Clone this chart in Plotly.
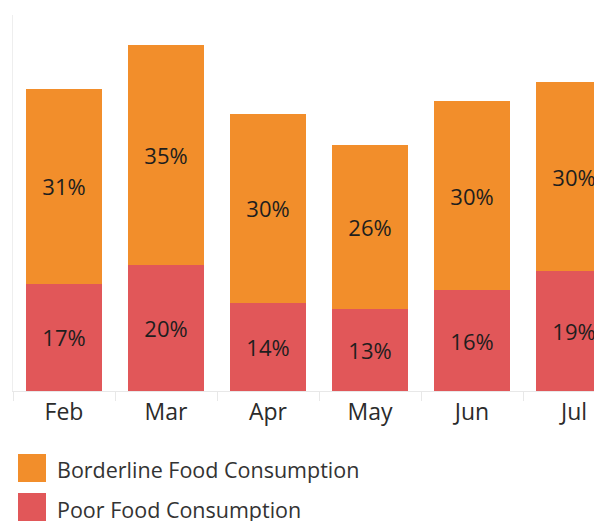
import plotly.graph_objects as go

months = ["Feb", "Mar", "Apr", "May", "Jun", "Jul"]
poor = [17, 20, 14, 13, 16, 19]
borderline = [31, 35, 30, 26, 30, 30]
series_names = ["Borderline Food Consumption", "Poor Food Consumption"]
colors = {"Borderline Food Consumption": "#F28E2B", "Poor Food Consumption": "#E15759"}

FONT = "Open Sans"
W, H = 594, 521
ML, MR, MT, MB = 13, 0, 15, 130

fig = go.Figure()
fig.add_trace(go.Bar(
    x=months, y=poor, name=series_names[1],
    marker=dict(color=colors[series_names[1]], line=dict(width=0)),
    text=[f"{v}%" for v in poor], textposition="inside",
    insidetextanchor="middle", constraintext="none",
    textfont=dict(family=FONT, size=22, color="#1e1e1e"),
    showlegend=False, hoverinfo="skip",
))
fig.add_trace(go.Bar(
    x=months, y=borderline, name=series_names[0],
    marker=dict(color=colors[series_names[0]], line=dict(width=0)),
    text=[f"{v}%" for v in borderline], textposition="inside",
    insidetextanchor="middle", constraintext="none",
    textfont=dict(family=FONT, size=22, color="#1e1e1e"),
    showlegend=False, hoverinfo="skip",
))

# manual legend (large square swatches); positions given in window pixels
plot_h = H - MT - MB
plot_w = W - ML - MR
base_win = H - MB
legend_rows = [(series_names[0], 454, 482, 469), (series_names[1], 493, 521, 509)]
for name, top, bot, cy in legend_rows:
    fig.add_shape(type="rect", xref="paper", yref="paper",
                  xsizemode="pixel", ysizemode="pixel", xanchor=0, yanchor=0,
                  x0=18 - ML, x1=46 - ML,
                  y0=base_win - bot, y1=base_win - top,
                  fillcolor=colors[name], line=dict(width=0))
    fig.add_annotation(xref="paper", yref="paper",
                       x=(55 - ML) / plot_w, y=(base_win - cy) / plot_h,
                       xanchor="left", yanchor="middle", showarrow=False,
                       text=name, font=dict(family=FONT, size=21.5, color="#333333"))

fig.update_layout(
    width=W, height=H, barmode="stack", bargap=0.255,
    margin=dict(l=ML, r=MR, t=MT, b=MB, autoexpand=False),
    plot_bgcolor="white", paper_bgcolor="white",
    font=dict(family=FONT, color="#333333"),
    hovermode=False,
    xaxis=dict(range=[-0.5, 5.196], showline=True, linecolor="#e8e8e8", linewidth=1,
               ticks="outside", tickson="boundaries", ticklen=9, tickcolor="#e8e8e8",
               tickfont=dict(family=FONT, size=23, color="#2b2b2b"),
               showgrid=False, zeroline=False, fixedrange=True, automargin=False),
    yaxis=dict(range=[0, 59.7], showline=True, linecolor="#eeeeee", linewidth=1,
               showticklabels=False, ticks="", showgrid=False, zeroline=False,
               fixedrange=True, automargin=False),
)

fig.write_html(
    "out.html",
    config={"displayModeBar": False},
    post_script="document.body.style.margin='0';document.body.style.overflow='hidden';",
)
